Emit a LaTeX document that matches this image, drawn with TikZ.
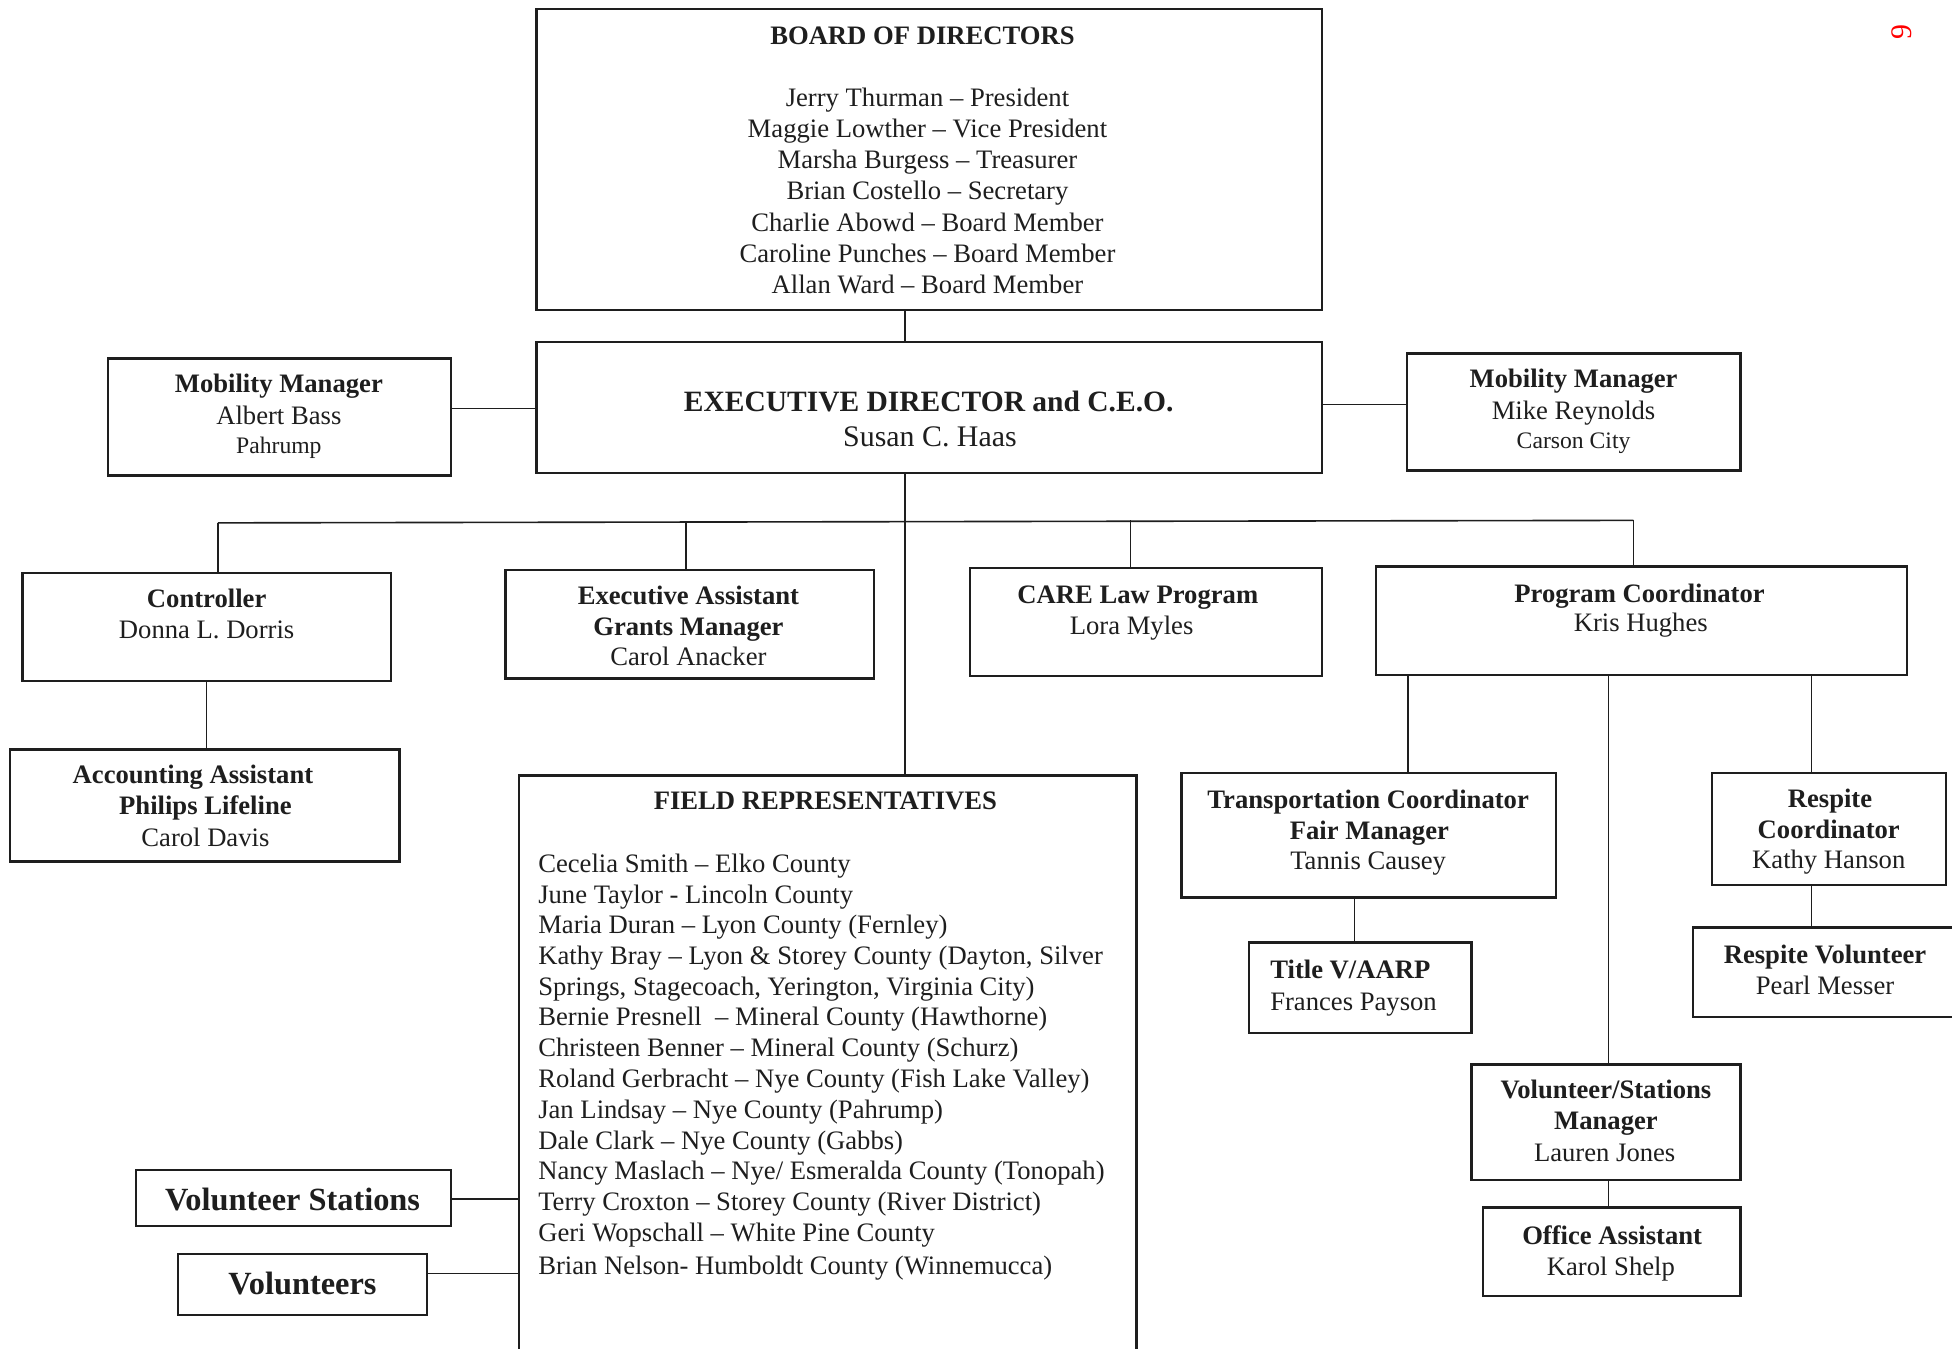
\documentclass[tikz,border=0pt]{standalone}
\usepackage{fontspec}
\setmainfont{Liberation Serif}
\definecolor{ink}{HTML}{1E1E1E}
\newcommand\orgbox[5]{\node[box, minimum width={(#4-#2)*0.5pt}, minimum height={(#5-#3)*0.5pt}] (#1) at ({(#2+#4)/2},{(#3+#5)/2}) {};}
\tikzset{
  box/.style={draw=ink, line width=0.9pt, inner sep=0pt, outer sep=0pt},
  conn/.style={draw=ink, line width=0.65pt},
  lbl/.style={inner sep=0pt, anchor=base, yshift=-0.8pt, text=ink, font=\fontsize{10.7}{12.5}\selectfont},
  lblb/.style={lbl, font=\fontsize{10.7}{12.5}\selectfont\bfseries},
  lbls/.style={lbl, font=\fontsize{9.5}{11}\selectfont},
  lblL/.style={lbl, anchor=base west},
  lblbig/.style={lbl, font=\fontsize{11.85}{14}\selectfont\bfseries},
  lblvol/.style={lbl, font=\fontsize{13}{15}\selectfont\bfseries},
}
\begin{document}
\begin{tikzpicture}[x=0.5pt,y=-0.5pt]
\useasboundingbox (0,0) rectangle (1568,1083);
\fill[white] (0,0) rectangle (1568,1083);
\clip (0,0) rectangle (1568,1083);

% boxes
\orgbox{board}{431}{7}{1062}{249}
\orgbox{exec}{431}{275}{1062}{380}
\orgbox{mobL}{87}{288}{362}{382}
\orgbox{mobR}{1130}{284}{1398}{378}
\orgbox{ctrl}{18}{460}{314}{547}
\orgbox{acct}{8}{602}{321}{692}
\orgbox{easst}{406}{458}{702}{545}
\orgbox{care}{779}{456}{1062}{543}
\orgbox{prog}{1105}{455}{1532}{542}
\orgbox{trans}{949}{621}{1250}{721}
\orgbox{titlev}{1003}{757}{1182}{830}
\orgbox{resp}{1375}{621}{1563}{711}
\orgbox{respvol}{1360}{745}{1574}{817}
\orgbox{vsm}{1182}{855}{1398}{948}
\orgbox{office}{1191}{970}{1398}{1041}
\orgbox{field}{417}{623}{913}{1100}
\orgbox{volst}{109}{940}{362}{985}
\orgbox{vols}{143}{1007}{343}{1056}

% connector helper coordinates
\coordinate (tr) at (727,0);
\coordinate (busL) at (175,420);
\coordinate (busR) at (1312,418);
\coordinate (b2) at (551,419);
\coordinate (b3) at (908,418);
\coordinate (c1) at (166,0);
\coordinate (hL) at (0,328);
\coordinate (hR) at (0,325);
\coordinate (p1) at (1131,0);
\coordinate (p2) at (1292,0);
\coordinate (p3) at (1455,0);
\coordinate (t1) at (1088,0);
\coordinate (hv1) at (0,963);
\coordinate (hv2) at (0,1023);

% connectors
\draw[conn] (board.south -| tr) -- (exec.north -| tr);
\draw[conn] (exec.south -| tr) -- (field.north -| tr);
\draw[conn] (busL) -- (busR);
\draw[conn] (busL) -- (ctrl.north -| busL);
\draw[conn] (b2) -- (easst.north -| b2);
\draw[conn] (b3) -- (care.north -| b3);
\draw[conn] (busR) -- (prog.north -| busR);
\draw[conn] (ctrl.south -| c1) -- (acct.north -| c1);
\draw[conn] (mobL.east |- hL) -- (exec.west |- hL);
\draw[conn] (exec.east |- hR) -- (mobR.west |- hR);
\draw[conn] (prog.south -| p1) -- (trans.north -| p1);
\draw[conn] (prog.south -| p2) -- (vsm.north -| p2);
\draw[conn] (prog.south -| p3) -- (resp.north -| p3);
\draw[conn] (trans.south -| t1) -- (titlev.north -| t1);
\draw[conn] (resp.south -| p3) -- (respvol.north -| p3);
\draw[conn] (vsm.south -| p2) -- (office.north -| p2);
\draw[conn] (volst.east |- hv1) -- (field.west |- hv1);
\draw[conn] (vols.east |- hv2) -- (field.west |- hv2);

% board text
\node[lblb] at (741,34) {BOARD OF DIRECTORS};
\node[lbl] at (745,84) {Jerry Thurman – President};
\node[lbl] at (745,109) {Maggie Lowther – Vice President};
\node[lbl] at (745,134) {Marsha Burgess – Treasurer};
\node[lbl] at (745,159) {Brian Costello – Secretary};
\node[lbl] at (745,184) {Charlie Abowd – Board Member};
\node[lbl] at (745,209) {Caroline Punches – Board Member};
\node[lbl] at (745,234) {Allan Ward – Board Member};

% exec
\node[lblbig] at (746,329) {EXECUTIVE DIRECTOR and C.E.O.};
\node[lbl, font=\fontsize{12}{14}\selectfont] at (747,357) {Susan C. Haas};

% mobility managers
\node[lblb] at (224,314) {Mobility Manager};
\node[lbl] at (224,339) {Albert Bass};
\node[lbls] at (224,363) {Pahrump};
\node[lblb] at (1264,310) {Mobility Manager};
\node[lbl] at (1264,335) {Mike Reynolds};
\node[lbls] at (1264,359) {Carson City};

% controller / accounting
\node[lblb] at (166,486) {Controller};
\node[lbl] at (166,511) {Donna L. Dorris};
\node[lblb] at (155,628) {Accounting Assistant};
\node[lblb] at (165,653) {Philips Lifeline};
\node[lbl] at (165,678) {Carol Davis};

% executive assistant
\node[lblb] at (553,484) {Executive Assistant};
\node[lblb] at (553,509) {Grants Manager};
\node[lbl] at (553,533) {Carol Anacker};

% CARE
\node[lblb] at (914,483) {CARE Law Program};
\node[lbl] at (909,508) {Lora Myles};

% program coordinator
\node[lblb] at (1317,482) {Program Coordinator};
\node[lbl] at (1318,506) {Kris Hughes};

% transportation
\node[lblb] at (1099,648) {Transportation Coordinator};
\node[lblb] at (1100,673) {Fair Manager};
\node[lbl] at (1099,697) {Tannis Causey};

% title V
\node[lblL, font=\fontsize{10.7}{12.5}\selectfont\bfseries] at (1020,784) {Title V/AARP};
\node[lblL] at (1020,810) {Frances Payson};

% respite
\node[lblb] at (1470,647) {Respite};
\node[lblb] at (1469,672) {Coordinator};
\node[lbl] at (1469,696) {Kathy Hanson};
\node[lblb] at (1466,772) {Respite Volunteer};
\node[lbl] at (1466,797) {Pearl Messer};

% volunteer/stations manager
\node[lblb] at (1290,881) {Volunteer/Stations};
\node[lblb] at (1290,906) {Manager};
\node[lbl] at (1289,931) {Lauren Jones};
\node[lblb] at (1295,998) {Office Assistant};
\node[lbl] at (1294,1023) {Karol Shelp};

% field representatives
\node[lblb] at (663,649) {FIELD REPRESENTATIVES};
\node[lblL] at (432,699) {Cecelia Smith – Elko County};
\node[lblL] at (432,724) {June Taylor - Lincoln County};
\node[lblL] at (432,748) {Maria Duran – Lyon County (Fernley)};
\node[lblL] at (432,773) {Kathy Bray – Lyon \& Storey County (Dayton, Silver};
\node[lblL] at (432,798) {Springs, Stagecoach, Yerington, Virginia City)};
\node[lblL] at (432,822) {Bernie Presnell \ – Mineral County (Hawthorne)};
\node[lblL] at (432,847) {Christeen Benner – Mineral County (Schurz)};
\node[lblL] at (432,872) {Roland Gerbracht – Nye County (Fish Lake Valley)};
\node[lblL] at (432,897) {Jan Lindsay – Nye County (Pahrump)};
\node[lblL] at (432,922) {Dale Clark – Nye County (Gabbs)};
\node[lblL] at (432,946) {Nancy Maslach – Nye/ Esmeralda County (Tonopah)};
\node[lblL] at (432,971) {Terry Croxton – Storey County (River District)};
\node[lblL] at (432,996) {Geri Wopschall – White Pine County};
\node[lblL] at (432,1022) {Brian Nelson- Humboldt County (Winnemucca)};

% volunteers
\node[lblvol] at (235,971) {Volunteer Stations};
\node[lblvol] at (243,1038) {Volunteers};

% page number
\node[inner sep=0pt, text=red, font=\fontsize{12}{14}\selectfont, rotate=90] (pg) at (1528,26) {9};
\end{tikzpicture}
\end{document}
